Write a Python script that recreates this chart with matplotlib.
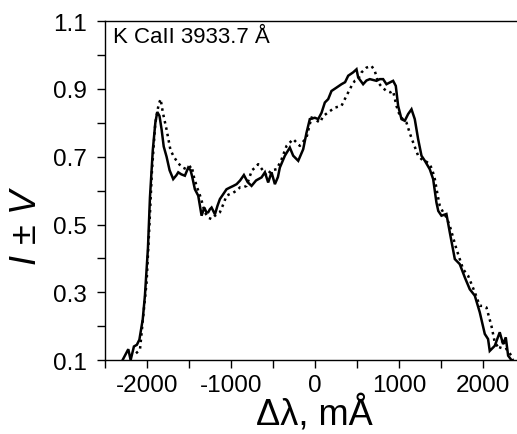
import numpy as np
import matplotlib
matplotlib.use("Agg")
import matplotlib.pyplot as plt

plt.rcParams['font.family'] = ['Liberation Sans', 'DejaVu Sans']
plt.rcParams['mathtext.fontset'] = 'custom'
plt.rcParams['mathtext.rm'] = 'Liberation Sans'
plt.rcParams['mathtext.it'] = 'Liberation Sans:italic'
plt.rcParams['axes.unicode_minus'] = False

# solid profile (I + V)
dl_solid = [-2290, -2222, -2194, -2155, -2120, -2090, -2050, -2024, -1988, -1964,
            -1930, -1900, -1877, -1850, -1825, -1800, -1766, -1730, -1687, -1650,
            -1627, -1590, -1548, -1508, -1480, -1460, -1429, -1389, -1349, -1317,
            -1290, -1270, -1250, -1230, -1190, -1160, -1131, -1090, -1052, -1012,
            -970, -932, -890, -845, -800, -754, -700, -635, -595, -556,
            -516, -476, -440, -417, -357, -298, -258, -198, -139, -100,
            -60, 0, 40, 80, 119, 159, 198, 258, 317, 360,
            397, 456, 496, 516, 575, 615, 655, 734, 774, 813,
            853, 900, 932, 964, 992, 1032, 1071, 1111, 1151, 1190,
            1230, 1270, 1310, 1369, 1409, 1448, 1470, 1508, 1567, 1607,
            1667, 1726, 1786, 1845, 1905, 1964, 2024, 2063, 2083, 2143,
            2202, 2242, 2274, 2302, 2341]
i_solid = [0.100, 0.132, 0.100, 0.140, 0.145, 0.160, 0.220, 0.290, 0.430, 0.580,
           0.720, 0.800, 0.832, 0.820, 0.780, 0.730, 0.700, 0.660, 0.634, 0.645,
           0.654, 0.648, 0.644, 0.668, 0.660, 0.640, 0.604, 0.585, 0.526, 0.550,
           0.535, 0.536, 0.545, 0.550, 0.530, 0.555, 0.575, 0.590, 0.604, 0.609,
           0.614, 0.619, 0.630, 0.646, 0.625, 0.614, 0.630, 0.639, 0.654, 0.624,
           0.654, 0.619, 0.640, 0.668, 0.703, 0.727, 0.703, 0.688, 0.722, 0.770,
           0.811, 0.815, 0.811, 0.830, 0.860, 0.870, 0.894, 0.904, 0.914, 0.920,
           0.939, 0.949, 0.958, 0.934, 0.914, 0.925, 0.929, 0.924, 0.929, 0.929,
           0.914, 0.920, 0.924, 0.909, 0.850, 0.811, 0.806, 0.826, 0.840, 0.811,
           0.752, 0.703, 0.688, 0.663, 0.634, 0.565, 0.540, 0.526, 0.531, 0.477,
           0.398, 0.383, 0.344, 0.309, 0.290, 0.241, 0.177, 0.162, 0.127, 0.142,
           0.182, 0.147, 0.167, 0.113, 0.100]

# dotted profile (I - V)
dl_dot = [-2130, -2083, -2044, -2004, -1970, -1940, -1900, -1860, -1837, -1810,
          -1766, -1720, -1680, -1647, -1590, -1528, -1468, -1440, -1409, -1360,
          -1310, -1270, -1230, -1190, -1131, -1090, -1052, -1012, -972, -932,
          -890, -850, -813, -750, -700, -675, -620, -575, -520, -456,
          -400, -337, -258, -179, -99, -40, 0, 60, 100, 159,
          238, 317, 377, 437, 476, 516, 556, 615, 675, 714,
          754, 800, 853, 900, 932, 972, 1012, 1050, 1091, 1130,
          1171, 1230, 1290, 1330, 1369, 1400, 1429, 1460, 1488, 1530,
          1570, 1607, 1687, 1766, 1825, 1905, 1964, 2000, 2044, 2103,
          2143, 2202, 2242, 2282, 2341, 2360]
i_dot = [0.120, 0.130, 0.230, 0.330, 0.500, 0.660, 0.800, 0.855, 0.870, 0.830,
         0.780, 0.720, 0.700, 0.688, 0.670, 0.663, 0.673, 0.640, 0.614, 0.580,
         0.536, 0.520, 0.516, 0.526, 0.536, 0.560, 0.585, 0.590, 0.594, 0.600,
         0.610, 0.610, 0.614, 0.660, 0.670, 0.678, 0.660, 0.644, 0.660, 0.663,
         0.690, 0.732, 0.752, 0.732, 0.757, 0.816, 0.810, 0.801, 0.820, 0.831,
         0.845, 0.850, 0.880, 0.909, 0.924, 0.929, 0.949, 0.963, 0.968, 0.953,
         0.919, 0.905, 0.894, 0.890, 0.894, 0.850, 0.821, 0.810, 0.801, 0.770,
         0.742, 0.703, 0.688, 0.685, 0.678, 0.660, 0.634, 0.590, 0.555, 0.535,
         0.520, 0.496, 0.427, 0.368, 0.349, 0.300, 0.260, 0.260, 0.255, 0.201,
         0.152, 0.132, 0.162, 0.132, 0.113, 0.100]

fig = plt.figure(figsize=(5.17, 4.35), dpi=100)
ax = fig.add_axes([0.203, 0.170, 0.812, 0.779])

ax.plot(dl_solid, i_solid, color='black', lw=1.8, solid_joinstyle='miter')
ax.plot(dl_dot, i_dot, color='black', lw=1.8, linestyle=(0, (1, 1.6)))

ax.set_xlim(-2500, 2500)
ax.set_ylim(0.1, 1.1)
ax.set_xticks([-2000, -1000, 0, 1000, 2000])
ax.set_xticks(np.arange(-2500, 2501, 500), minor=True)
ax.set_yticks([0.1, 0.3, 0.5, 0.7, 0.9, 1.1])
ax.set_yticks(np.arange(0.1, 1.11, 0.1), minor=True)
ax.tick_params(which='both', direction='out', length=6, width=1, labelsize=17.5)
ax.tick_params(axis='x', pad=4)
ax.tick_params(axis='y', pad=7)
for s in ax.spines.values():
    s.set_linewidth(1.0)

ax.set_xlabel('Δλ, mÅ', fontsize=26, labelpad=-1)
ax.set_ylabel(r'$I\,\pm\,V$', fontsize=26)
ax.yaxis.set_label_coords(-0.145, 0.40)

ax.text(0.019, 0.985, 'K CaII 3933.7 Å', transform=ax.transAxes,
        fontsize=16, ha='left', va='top')

fig.savefig('out.png', dpi=100)
